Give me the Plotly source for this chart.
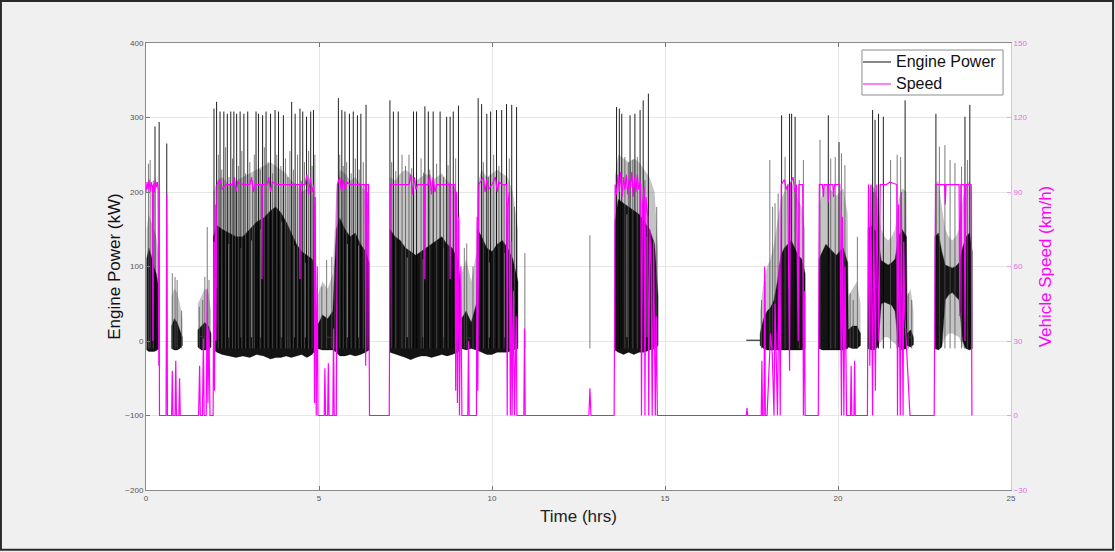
import plotly.graph_objects as go

# ---------------- DATA ----------------
# Engine-power dense core, per driving period (None separates periods)
core_t = [0.02, 0.08, 0.15, 0.22, 0.30, 0.37, None,
          0.74, 0.82, 0.90, 0.98, 1.05, None,
          1.50, 1.60, 1.70, 1.80, 1.88, None,
          1.95, 2.05, 2.20, 2.40, 2.60, 2.80, 3.00, 3.20, 3.40, 3.60, 3.75, 3.90, 4.05, 4.20, 4.35, 4.50, 4.65, 4.80, 4.90, None,
          4.95, 5.10, 5.25, 5.40, 5.50, 5.60, 5.75, 5.90, 6.05, 6.20, 6.35, 6.45, None,
          7.05, 7.20, 7.35, 7.50, 7.65, 7.80, 7.95, 8.10, 8.25, 8.40, 8.55, 8.70, 8.85, 9.00, 9.08, None,
          9.12, 9.25, 9.40, 9.55, 9.58, 9.70, 9.85, 10.00, 10.15, 10.30, 10.45, 10.60, 10.75, None,
          13.55, 13.65, 13.80, 13.95, 14.10, 14.25, 14.40, 14.55, 14.70, 14.80, None,
          17.75, 17.85, 17.95, 18.05, 18.15, 18.25, 18.35, 18.45, 18.55, 18.65, 18.75, 18.85, 18.95, 19.05, None,
          19.45, 19.55, 19.65, 19.75, 19.85, 19.95, 20.05, 20.15, 20.28, 20.30, 20.42, 20.55, 20.65, None,
          20.87, 20.95, 21.05, 21.15, 21.25, 21.35, 21.45, 21.55, 21.65, 21.75, 21.85, 21.98, 22.00, 22.10, 22.18, None,
          22.80, 22.90, 23.00, 23.10, 23.20, 23.30, 23.40, 23.50, 23.60, 23.70, 23.80, 23.88]
core_outer_hi = [150, 170, 160, 150, 140, 110, None,
                 60, 70, 65, 50, 30, None,
                 50, 60, 70, 65, 40, None,
                 200, 215, 220, 210, 215, 220, 225, 230, 235, 240, 235, 230, 225, 215, 210, 200, 205, 200, 180, None,
                 60, 80, 70, 90, 200, 230, 225, 215, 220, 210, 200, 170, None,
                 220, 215, 225, 230, 225, 215, 220, 225, 215, 220, 225, 215, 210, 200, 160, None,
                 90, 110, 80, 120, 210, 230, 220, 225, 230, 225, 220, 200, 150, None,
                 220, 250, 245, 240, 245, 240, 230, 220, 200, 120, None,
                 40, 80, 100, 110, 130, 160, 190, 200, 210, 215, 200, 190, 180, 150, None,
                 180, 200, 210, 205, 200, 195, 200, 205, 170, 60, 70, 80, 50, None,
                 200, 210, 205, 190, 150, 140, 135, 140, 150, 190, 205, 200, 60, 70, 40, None,
                 210, 215, 180, 150, 140, 135, 140, 150, 190, 210, 215, 200]
core_inner_hi = [110, 125, 115, 100, 90, 70, None,
                 20, 30, 25, 15, 5, None,
                 15, 20, 25, 20, 10, None,
                 140, 155, 150, 145, 140, 140, 150, 160, 165, 175, 180, 172, 160, 145, 130, 120, 115, 110, 100, None,
                 20, 35, 30, 40, 150, 165, 150, 140, 145, 130, 120, 105, None,
                 150, 140, 135, 125, 120, 115, 120, 125, 130, 135, 140, 130, 125, 110, 80, None,
                 30, 40, 25, 50, 150, 140, 125, 120, 130, 135, 125, 110, 80, None,
                 160, 190, 185, 180, 175, 170, 160, 150, 130, 60, None,
                 10, 30, 40, 45, 55, 80, 115, 125, 130, 135, 125, 115, 110, 90, None,
                 110, 120, 130, 125, 120, 115, 120, 125, 105, 15, 20, 20, 10, None,
                 150, 155, 150, 140, 108, 105, 102, 105, 110, 140, 150, 140, 10, 15, 5, None,
                 140, 145, 120, 102, 100, 98, 100, 105, 125, 140, 145, 120]
core_inner_lo = [-12, -14, -14, -14, -13, -10, None,
                 -10, -12, -12, -10, -6, None,
                 -8, -12, -12, -12, -8, None,
                 -12, -15, -18, -20, -22, -20, -22, -18, -20, -24, -22, -22, -20, -22, -20, -18, -22, -18, -12, None,
                 -10, -12, -12, -12, -15, -20, -20, -18, -20, -18, -15, -12, None,
                 -15, -18, -20, -22, -25, -22, -20, -20, -22, -20, -18, -20, -18, -15, -12, None,
                 -10, -12, -10, -12, -12, -15, -18, -18, -15, -15, -15, -12, -10, None,
                 -12, -15, -18, -15, -18, -15, -15, -12, -10, -6, None,
                 -6, -10, -12, -12, -12, -12, -12, -12, -12, -12, -12, -12, -12, -10, None,
                 -10, -12, -12, -12, -12, -12, -12, -12, -10, -8, -10, -10, -6, None,
                 -10, -12, -12, -8, 50, 52, 50, 48, 40, -8, -12, -10, -6, -8, -5, None,
                 -10, -12, -8, 55, 62, 65, 60, 55, 0, -10, -12, -10]
core_outer_lo = [-12, -14, -14, -14, -13, -10, None,
                 -10, -12, -12, -10, -6, None,
                 -8, -12, -12, -12, -8, None,
                 -12, -15, -18, -20, -22, -20, -22, -18, -20, -24, -22, -22, -20, -22, -20, -18, -22, -18, -12, None,
                 -10, -12, -12, -12, -15, -20, -20, -18, -20, -18, -15, -12, None,
                 -15, -18, -20, -22, -25, -22, -20, -20, -22, -20, -18, -20, -18, -15, -12, None,
                 -10, -12, -10, -12, -12, -15, -18, -18, -15, -15, -15, -12, -10, None,
                 -12, -15, -18, -15, -18, -15, -15, -12, -10, -6, None,
                 -6, -10, -12, -12, -12, -12, -12, -12, -12, -12, -12, -12, -12, -10, None,
                 -10, -12, -12, -12, -12, -12, -12, -12, -10, -8, -10, -10, -6, None,
                 -10, -12, -12, -8, 0, 5, 5, 0, -5, -8, -12, -10, -6, -8, -5, None,
                 -10, -12, -8, 5, 10, 10, 8, 5, -8, -10, -12, -10]

# Lighter streaks inside the dense core (hrs, top kW)
streak_t = [2.39, 2.74, 3.05, 3.31, 3.92, 4.29, 4.60, 5.82, 6.14, 7.55, 8.01, 8.60, 9.92, 10.36, 13.90, 14.48]
streak_p = [130, 125, 135, 150, 160, 128, 105, 130, 128, 112, 110, 125, 105, 118, 170, 140]

# Tall engine-power spikes (hrs, kW)
spike_dark_t = [0.26, 0.38, 0.60,
                1.965, 2.04, 2.14, 2.25, 2.35, 2.45, 2.54, 2.62, 2.72, 2.83, 2.94, 3.18, 3.25, 3.37, 3.47,
                3.60, 3.73, 3.83, 3.97, 4.21, 4.31, 4.45, 4.53, 4.64, 4.76, 4.84,
                5.56, 5.66, 5.75, 5.88, 5.99, 6.11, 6.21, 6.36,
                7.05, 7.15, 7.29, 7.73, 7.82, 8.06, 8.16, 8.30, 8.50, 8.69, 8.79, 8.88, 9.03,
                9.60, 9.70, 9.85, 9.96, 10.13, 10.28, 10.42, 10.57, 10.71,
                13.60, 13.68, 13.75, 13.99, 14.13, 14.28, 14.37, 14.52,
                18.37, 18.60, 18.66, 18.76,
                19.72, 20.03,
                21.00, 21.07, 21.17, 21.31, 21.94,
                22.83, 23.67, 23.81]
spike_dark_p = [288, 294, 265,
                312, 321, 308, 308, 305, 308, 308, 305, 308, 305, 308, 308, 305, 303, 308,
                305, 310, 308, 303, 321, 305, 312, 308, 301, 308, 310,
                326, 310, 308, 305, 308, 303, 305, 317,
                323, 308, 308, 308, 308, 315, 308, 308, 308, 301, 301, 308, 316,
                326, 318, 305, 308, 310, 310, 318, 317, 314,
                314, 312, 305, 303, 305, 310, 323, 332,
                303, 305, 305, 301,
                303, 267,
                310, 297, 305, 301, 323,
                305, 301, 317]
spike_gray_t = [0.07, 0.12, 0.21,
                0.76, 0.84, 0.90, 1.03, 1.54, 1.64, 1.70, 1.77, 1.82,
                2.09, 2.19, 2.30, 2.40, 2.50, 2.58, 2.67, 2.77, 2.88, 3.00, 3.08, 3.13, 3.30, 3.42, 3.53,
                3.66, 3.78, 3.90, 4.03, 4.10, 4.16, 4.26, 4.38, 4.49, 4.58, 4.70, 4.80, 4.88,
                5.08, 5.22, 5.37, 5.46,
                5.60, 5.70, 5.80, 5.93, 6.05, 6.16, 6.28, 6.40,
                7.10, 7.22, 7.40, 7.50, 7.60, 7.68, 7.95, 8.02, 8.20, 8.40, 8.60, 8.73, 8.95, 9.20, 9.27, 9.45,
                9.75, 9.90, 10.05, 10.20, 10.35, 10.50, 10.65, 10.95, 12.83,
                13.84, 13.94, 14.07, 14.20, 14.42, 14.61, 14.76,
                17.79, 17.89, 18.03, 18.11, 18.18, 18.27, 18.47, 18.88, 19.00,
                19.48, 19.79, 19.92, 20.10, 20.20, 20.35, 20.44, 20.56,
                21.52, 21.71, 21.81, 22.03, 22.13,
                22.93, 23.09, 23.24, 23.38, 23.57, 23.74]
spike_gray_p = [238, 243, 215,
                91, 86, 82, 41, 46, 55, 86, 153, 82,
                250, 230, 260, 220, 245, 210, 235, 255, 225, 240, 215, 250, 230, 260, 240,
                225, 250, 235, 245, 220, 255, 230, 250, 215, 240, 255, 235, 250,
                73, 109, 113, 100,
                250, 235, 240, 225, 245, 230, 240, 200,
                240, 228, 250, 235, 250, 232, 245, 226, 230, 238, 220, 236, 245, 125, 131, 100,
                240, 220, 250, 235, 210, 245, 180, 118, 142,
                247, 240, 243, 247, 216, 135, 180,
                55, 80, 243, 180, 185, 198, 247, 216, 243,
                270, 245, 247, 252, 236, 64, 55, 140,
                243, 250, 247, 64, 55,
                261, 263, 243, 239, 234, 243]

# Idle (engine on, vehicle stopped) flat segments
idle_t = [1.50, 1.72, None, 5.23, 5.42, None, 9.18, 9.40, None, 17.35, 17.75, None, 22.02, 22.15]
idle_p = [6, 6, None, 5, 5, None, 4, 4, None, 1, 1, None, 5, 5]

# Vehicle speed (hrs, km/h)
speed_t = [0.00, 0.03, 0.06, 0.09, 0.12, 0.15, 0.18, 0.20, 0.21, 0.24, 0.27, 0.30, 0.33, 0.35, 0.37, 0.38, 0.39,
           0.58, 0.60, 0.62, 0.74, 0.76, 0.78, 0.84, 0.86, 0.88, 0.95, 0.97, 0.99,
           1.52, 1.55, 1.57, 1.63, 1.66, 1.68, 1.74, 1.77, 1.79, 1.82, 1.85,
           1.94, 1.96, 1.98, 2.00, 2.02, 2.05, 2.15, 2.20, 2.30, 2.50, 2.55, 2.60, 2.65, 2.80, 3.00,
           3.05, 3.10, 3.15, 3.34, 3.35, 3.36, 3.50, 3.55, 3.60, 3.65, 3.80, 4.00, 4.20, 4.44, 4.45, 4.46,
           4.60, 4.65, 4.70, 4.75, 4.80, 4.85, 4.87, 4.89, 4.92, 4.95, 4.97,
           5.15, 5.17, 5.19, 5.25, 5.27, 5.29, 5.40, 5.42, 5.44, 5.50, 5.53, 5.60, 5.65, 5.70, 5.75,
           5.80, 5.90, 6.10, 6.33, 6.35, 6.37, 6.43, 6.46,
           7.03, 7.06, 7.30, 7.60, 7.65, 7.70, 7.75, 7.80, 7.85, 8.05, 8.06, 8.07, 8.15, 8.20, 8.25,
           8.30, 8.35, 8.40, 8.78, 8.79, 8.80, 8.93, 8.95, 8.97, 9.00, 9.03, 9.06, 9.10, 9.13,
           9.30, 9.32, 9.34, 9.55, 9.57, 9.59, 9.62, 9.75, 9.80, 9.85, 9.90, 10.00, 10.10, 10.15, 10.20,
           10.30, 10.42, 10.44, 10.46, 10.50, 10.53, 10.56, 10.58, 10.62, 10.65, 10.70, 10.72,
           10.92, 10.94, 10.96, 12.80, 12.83, 12.86,
           13.53, 13.56, 13.60, 13.64, 13.68, 13.72, 13.76, 13.80, 13.84, 13.88, 13.92, 13.96, 14.00,
           14.04, 14.08, 14.12, 14.16, 14.20, 14.24, 14.28, 14.30, 14.32, 14.35, 14.40, 14.42, 14.45,
           14.50, 14.53, 14.56, 14.60, 14.63, 14.67, 14.72, 14.75, 14.78,
           17.35, 17.37, 17.39, 17.78, 17.80, 17.82, 17.86, 17.88, 17.90, 17.95, 18.05, 18.10, 18.15,
           18.18, 18.22, 18.25, 18.30, 18.33, 18.36, 18.45, 18.50, 18.55, 18.60, 18.62, 18.70, 18.75,
           18.80, 18.85, 18.87, 18.98, 19.00, 19.03, 19.05,
           19.43, 19.46, 19.55, 19.58, 19.60, 19.70, 19.72, 19.74, 19.85, 19.87, 19.90, 20.05, 20.10,
           20.13, 20.17, 20.20, 20.25, 20.36, 20.38, 20.40, 20.46, 20.48, 20.50,
           20.85, 20.88, 20.92, 20.95, 21.00, 21.03, 21.08, 21.12, 21.18, 21.22, 21.40, 21.50, 21.70,
           21.72, 21.75, 21.80, 21.83, 21.88, 21.90, 21.93, 22.08,
           22.78, 22.82, 23.00, 23.08, 23.10, 23.12, 23.50, 23.52, 23.55, 23.65, 23.67, 23.70, 23.85, 23.87]
speed_v = [90, 94, 91, 95, 90, 94, 92, 30, 93, 90, 95, 92, 94, 91, 20, 60, 0,
           0, 89, 0, 0, 18, 0, 0, 22, 0, 0, 15, 0,
           0, 20, 0, 0, 31, 0, 0, 51, 5, 35, 0,
           0, 70, 10, 85, 30, 93, 95, 91, 93, 93, 96, 90, 94, 93, 93,
           96, 90, 93, 93, 55, 93, 93, 96, 90, 94, 93, 93, 93, 93, 55, 93,
           93, 97, 89, 96, 90, 93, 5, 88, 0, 60, 0,
           0, 19, 0, 0, 21, 0, 0, 35, 0, 0, 93, 96, 90, 95, 91,
           94, 93, 93, 93, 20, 93, 93, 0,
           0, 93, 93, 93, 97, 89, 96, 91, 93, 93, 55, 93, 93, 97, 89,
           96, 90, 93, 93, 55, 93, 93, 10, 90, 5, 80, 0, 60, 0,
           0, 30, 0, 0, 80, 10, 93, 96, 90, 95, 91, 93, 96, 90, 94,
           93, 93, 0, 85, 90, 0, 70, 0, 50, 0, 40, 0,
           0, 35, 0, 0, 11, 0,
           0, 93, 89, 97, 90, 98, 88, 96, 91, 97, 89, 95, 92,
           98, 88, 96, 90, 97, 91, 94, 93, 0, 85, 92, 0, 88,
           80, 0, 75, 60, 0, 70, 0, 40, 0,
           0, 3, 0, 0, 22, 0, 0, 60, 0, 0, 33, 25, 0,
           45, 20, 0, 60, 0, 93, 95, 91, 93, 18, 93, 96, 90,
           93, 30, 93, 93, 0, 50, 0,
           0, 93, 93, 88, 93, 93, 86, 93, 93, 88, 93, 93, 0,
           80, 0, 60, 0, 0, 20, 0, 0, 22, 0,
           0, 93, 20, 93, 0, 90, 10, 93, 30, 93, 93, 94, 93,
           0, 85, 0, 90, 0, 70, 41, 0,
           0, 93, 93, 93, 85, 93, 93, 40, 93, 93, 30, 93, 93, 0]

x_ticks = [0, 5, 10, 15, 20, 25]
power_ticks = [-200, -100, 0, 100, 200, 300, 400]
speed_ticks = [-30, 0, 30, 60, 90, 120, 150]
legend_labels = ["Engine Power", "Speed"]

# ---------------- helpers ----------------
def split(seq):
    out, cur = [], []
    for v in seq:
        if v is None:
            out.append(cur)
            cur = []
        else:
            cur.append(v)
    out.append(cur)
    return out

def polygons(t, hi, lo):
    xs, ys = [], []
    for ts, hs, ls in zip(split(t), split(hi), split(lo)):
        xs += ts + ts[::-1] + [ts[0], None]
        ys += hs + ls[::-1] + [hs[0], None]
    return xs, ys

def verticals(t, p, base=-10):
    xs, ys = [], []
    for ti, pi in zip(t, p):
        xs += [ti, ti, None]
        ys += [base, pi, None]
    return xs, ys

FONT = "Liberation Sans, Arial, sans-serif"
MAG = "#ff00ff"

fig = go.Figure()

ox, oy = polygons(core_t, core_outer_hi, core_inner_hi)
fig.add_trace(go.Scatter(x=ox, y=oy, fill="toself", fillcolor="rgba(60,60,60,0.30)",
                         line=dict(width=0), mode="lines", showlegend=False, hoverinfo="skip"))
lx, ly = polygons(core_t, core_inner_lo, core_outer_lo)
fig.add_trace(go.Scatter(x=lx, y=ly, fill="toself", fillcolor="rgba(60,60,60,0.30)",
                         line=dict(width=0), mode="lines", showlegend=False, hoverinfo="skip"))
ix, iy = polygons(core_t, core_inner_hi, core_inner_lo)
fig.add_trace(go.Scatter(x=ix, y=iy, fill="toself", fillcolor="rgba(0,0,0,0.92)",
                         line=dict(width=0.6, color="rgba(0,0,0,0.6)"), mode="lines",
                         showlegend=False, hoverinfo="skip"))
sx, sy = verticals(streak_t, streak_p, base=5)
fig.add_trace(go.Scatter(x=sx, y=sy, mode="lines", line=dict(color="rgba(255,255,255,0.45)", width=1),
                         showlegend=False, hoverinfo="skip"))
gx, gy = verticals(spike_gray_t, spike_gray_p)
fig.add_trace(go.Scatter(x=gx, y=gy, mode="lines", line=dict(color="rgba(80,80,80,0.75)", width=1),
                         showlegend=False, hoverinfo="skip"))
fig.add_trace(go.Scatter(x=idle_t, y=idle_p, mode="lines", line=dict(color="#333", width=1.2),
                         showlegend=False, hoverinfo="skip"))
dx, dy = verticals(spike_dark_t, spike_dark_p)
fig.add_trace(go.Scatter(x=dx, y=dy, mode="lines", line=dict(color="rgba(0,0,0,0.88)", width=1),
                         name=legend_labels[0], showlegend=False))
fig.add_trace(go.Scatter(x=speed_t, y=speed_v, mode="lines", line=dict(color=MAG, width=1.2),
                         name=legend_labels[1], yaxis="y2", showlegend=False))

# figure frame
fig.add_shape(type="rect", xref="paper", yref="paper", x0=-0.1677, x1=1.1180,
              y0=-0.1337, y1=1.0940, line=dict(color="#2a2a2a", width=2), layer="below")

# legend box (MATLAB style)
fig.add_shape(type="rect", xref="paper", yref="paper", x0=0.8277, x1=0.9908, y0=0.8837, y1=0.9843,
              line=dict(color="#8c8c8c", width=1), fillcolor="white", layer="above")
for yy, col in [(0.9575, "#111111"), (0.9083, MAG)]:
    fig.add_shape(type="line", xref="paper", yref="paper", x0=0.8289, x1=0.8613, y0=yy, y1=yy,
                  line=dict(color=col, width=1), layer="above")
for yy, lab in [(0.9575, legend_labels[0]), (0.9083, legend_labels[1])]:
    fig.add_annotation(xref="paper", yref="paper", x=0.8647, y=yy, text=lab, showarrow=False,
                       xanchor="left", yanchor="middle", font=dict(size=16, color="#111", family=FONT))

fig.update_layout(
    width=1115, height=552,
    margin=dict(l=146, r=104, t=43, b=62),
    paper_bgcolor="#f0f0f0", plot_bgcolor="white",
    font=dict(family=FONT, color="#222"),
    showlegend=False,
    xaxis=dict(range=[0, 25], tickvals=x_ticks, ticks="inside", ticklen=4, tickcolor="#777",
               showline=True, linecolor="#8a8a8a", linewidth=1, mirror="ticks",
               showgrid=True, gridcolor="#e6e6e6", zeroline=False,
               tickfont=dict(size=8, color="#555"),
               title=dict(text="Time (hrs)", font=dict(size=17, color="#222"), standoff=8)),
    yaxis=dict(range=[-200, 400], tickvals=power_ticks, ticks="inside", ticklen=4, tickcolor="#777",
               showline=True, linecolor="#8a8a8a", linewidth=1,
               showgrid=True, gridcolor="#e6e6e6", zeroline=False,
               tickfont=dict(size=8, color="#555"),
               title=dict(text="Engine Power (kW)", font=dict(size=17, color="#111"), standoff=0)),
    yaxis2=dict(range=[-30, 150], tickvals=speed_ticks, overlaying="y", side="right",
                ticks="inside", ticklen=4, tickcolor="#f0a0f0",
                showline=True, linecolor="#f2b0f2", linewidth=1, showgrid=False, zeroline=False,
                tickfont=dict(size=8, color="#e070e0"),
                title=dict(text="Vehicle Speed (km/h)", font=dict(size=17, color=MAG), standoff=12)),
)

fig.write_html("out.html")
